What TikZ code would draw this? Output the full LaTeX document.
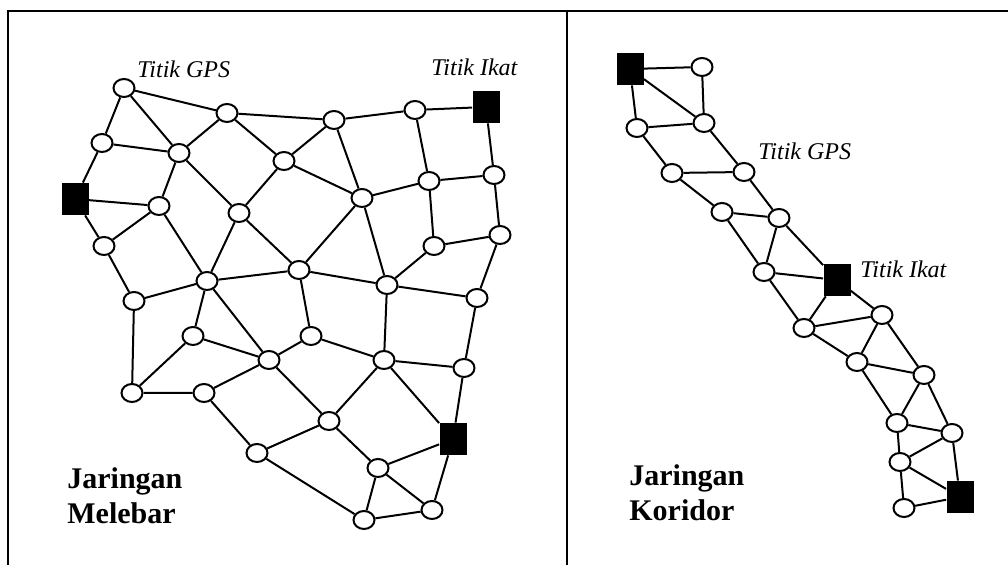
\documentclass[tikz,border=0pt]{standalone}
\usepackage{fontspec}
\setmainfont{Liberation Serif}
\usetikzlibrary{shapes.geometric}

\begin{document}
\begin{tikzpicture}
[x=0.5pt, y=-0.5pt,
 gps/.style={ellipse, draw=black, fill=white, line width=1pt, inner sep=0pt, minimum width=10.5pt, minimum height=9pt},
 ikat/.style={rectangle, fill=black, inner sep=0pt, minimum width=13.5pt, minimum height=16pt},
 lnk/.style={line width=1pt},
 lbl/.style={font=\itshape\fontsize{12}{14}\selectfont, inner sep=0pt, anchor=base west},
 ttl/.style={font=\bfseries\fontsize{15}{17.5}\selectfont, align=left, inner sep=0pt, anchor=north west}]

\useasboundingbox (0,0) rectangle (1008,565);

% table frame
\draw [line width=1.1pt] (8,565) -- (8,11) -- (1008,11);
\draw [line width=1.1pt] (567,11) -- (567,565);

% --- wide network ---
\node[gps] (a1) at (124,88) {};
\node[gps] (a2) at (227,113) {};
\node[gps] (a3) at (334,120) {};
\node[gps] (a4) at (415,110) {};
\node[ikat] (s1) at (486,107) {};
\node[gps] (b1) at (102,143) {};
\node[gps] (b2) at (179,153) {};
\node[gps] (b3) at (284,161) {};
\node[gps] (b4) at (429,181) {};
\node[gps] (b5) at (494,175) {};
\node[ikat] (s2) at (75,199) {};
\node[gps] (c1) at (159,206) {};
\node[gps] (c2) at (239,213) {};
\node[gps] (c3) at (362,198) {};
\node[gps] (c4) at (434,246) {};
\node[gps] (c5) at (500,235) {};
\node[gps] (d1) at (104,246) {};
\node[gps] (d2) at (207,281) {};
\node[gps] (d3) at (299,270) {};
\node[gps] (d4) at (387,285) {};
\node[gps] (d5) at (477,298) {};
\node[gps] (e1) at (134,301) {};
\node[gps] (e2) at (193,336) {};
\node[gps] (e3) at (311,336) {};
\node[gps] (e4) at (384,360) {};
\node[gps] (e5) at (464,368) {};
\node[gps] (f1) at (132,393) {};
\node[gps] (f2) at (204,393) {};
\node[gps] (f3) at (269,360) {};
\node[gps] (f4) at (329,421) {};
\node[ikat] (s3) at (453,439) {};
\node[gps] (g1) at (257,453) {};
\node[gps] (g2) at (378,468) {};
\node[gps] (g3) at (432,510) {};
\node[gps] (g4) at (364,520) {};

\draw[lnk] (a1) -- (a2) (a1) -- (b1) (a1) -- (b2);
\draw[lnk] (a2) -- (b2) (a2) -- (a3) (a2) -- (b3);
\draw[lnk] (a3) -- (a4) (a3) -- (b3) (a3) -- (c3);
\draw[lnk] (a4) -- (s1) (a4) -- (b4) (s1) -- (b5);
\draw[lnk] (b1) -- (b2) (b1) -- (s2) (b2) -- (c1) (b2) -- (c2);
\draw[lnk] (b3) -- (c2) (b3) -- (c3) (b4) -- (b5) (b4) -- (c3);
\draw[lnk] (b4) -- (c4) (b5) -- (c5);
\draw[lnk] (s2) -- (c1) (s2) -- (d1) (c1) -- (d1) (c1) -- (d2);
\draw[lnk] (c2) -- (d2) (c2) -- (d3) (c3) -- (d3) (c3) -- (d4);
\draw[lnk] (c4) -- (c5) (c4) -- (d4) (c5) -- (d5);
\draw[lnk] (d1) -- (e1) (d2) -- (d3) (d2) -- (e1) (d2) -- (e2) (d2) -- (f3);
\draw[lnk] (d3) -- (d4) (d3) -- (e3) (d4) -- (d5) (d4) -- (e4) (d5) -- (e5);
\draw[lnk] (e1) -- (f1) (e2) -- (f1) (e2) -- (f3) (e3) -- (f3) (e3) -- (e4);
\draw[lnk] (e4) -- (e5) (e4) -- (f4) (e4) -- (s3) (e5) -- (s3);
\draw[lnk] (f1) -- (f2) (f2) -- (f3) (f2) -- (g1) (f3) -- (f4);
\draw[lnk] (f4) -- (g1) (f4) -- (g2) (g1) -- (g4);
\draw[lnk] (g2) -- (s3) (s3) -- (g3) (g2) -- (g3) (g2) -- (g4) (g4) -- (g3);

\node[lbl] (lgps) at (137,78) {Titik GPS};
\node[lbl] (likat) at (431,76) {Titik Ikat};
\node[ttl] (tmel) at (67,467) {Jaringan\\Melebar};

% --- corridor network ---
\node[ikat] (k1) at (630,69) {};
\node[gps] (r1) at (702,67) {};
\node[gps] (r2) at (637,128) {};
\node[gps] (r3) at (704,123) {};
\node[gps] (r4) at (672,173) {};
\node[gps] (r5) at (744,172) {};
\node[gps] (r6) at (722,212) {};
\node[gps] (r7) at (779,218) {};
\node[gps] (r8) at (764,272) {};
\node[ikat] (k2) at (837,280) {};
\node[gps] (r9) at (804,328) {};
\node[gps] (r10) at (882,315) {};
\node[gps] (r11) at (857,362) {};
\node[gps] (r12) at (924,375) {};
\node[gps] (r13) at (897,423) {};
\node[gps] (r14) at (952,433) {};
\node[gps] (r15) at (900,462) {};
\node[gps] (r16) at (904,508) {};
\node[ikat] (k3) at (960,497) {};

\draw[lnk] (k1) -- (r1) (k1) -- (r2) (k1) -- (r3) (r1) -- (r3);
\draw[lnk] (r2) -- (r3) (r2) -- (r4) (r3) -- (r5) (r4) -- (r5);
\draw[lnk] (r4) -- (r6) (r5) -- (r7) (r6) -- (r7) (r6) -- (r8);
\draw[lnk] (r7) -- (r8) (r7) -- (k2) (r8) -- (k2) (r8) -- (r9);
\draw[lnk] (k2) -- (r9) (k2) -- (r10) (r9) -- (r10) (r9) -- (r11);
\draw[lnk] (r10) -- (r11) (r10) -- (r12) (r11) -- (r12) (r11) -- (r13);
\draw[lnk] (r12) -- (r13) (r12) -- (r14) (r13) -- (r14) (r13) -- (r15);
\draw[lnk] (r14) -- (r15) (r14) -- (k3) (r15) -- (k3) (r15) -- (r16) (r16) -- (k3);

\node[lbl] (kgps) at (758,160) {Titik GPS};
\node[lbl] (kikat) at (860,278) {Titik Ikat};
\node[ttl] (tkor) at (629,464) {Jaringan\\Koridor};

\end{tikzpicture}
\end{document}
